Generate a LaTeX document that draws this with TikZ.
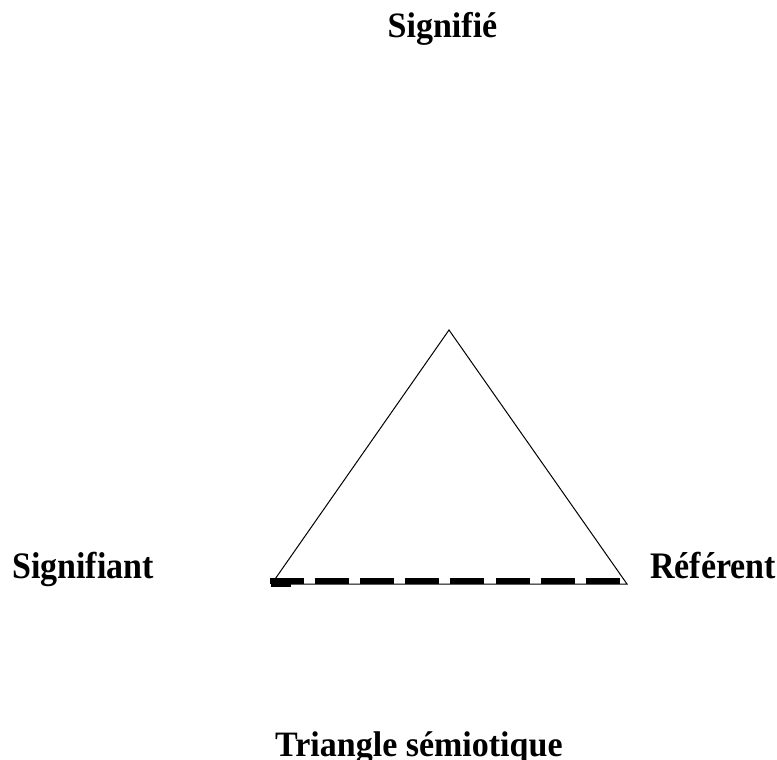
\documentclass[tikz,border=0pt]{standalone}
\usepackage{fontspec}
\usepackage{graphicx}
\setmainfont{Liberation Serif}
\begin{document}
\begin{tikzpicture}[x=1pt,y=-1pt,
  lbl/.style={font=\fontsize{34}{40}\selectfont\bfseries, inner sep=0pt},
  thin/.style={line width=1pt, line join=miter},
  dashbar/.style={line width=5.5pt, dash pattern=on 34pt off 11.1pt}]
\useasboundingbox (0,0) rectangle (777,760);
% labels
\node[lbl, anchor=base] (sd) at (442.5,37.5) {\scalebox{1}[1.05]{Signifié}};
\node[lbl, anchor=base west] (sa) at (12,578) {\scalebox{1}[1.1]{Signifiant}};
\node[lbl, anchor=base west] (ref) at (650,578) {\scalebox{1}[1.1]{Référent}};
\node[lbl, anchor=base west] (title) at (275,756) {\scalebox{1}[1.05]{Triangle sémiotique}};
% triangle vertices
\coordinate (top) at (449,330);
\coordinate (bl) at (273,582);
\coordinate (br) at (627,584);
\coordinate (bl2) at (273,584);
\coordinate (ds) at (270,581);
\coordinate (de) at (622,581);
\draw[thin] (bl) -- (top) -- (br) -- (bl2);
\draw[dashbar] (ds) -- (de);
\fill (271,581) rectangle (291,587);
\end{tikzpicture}
\end{document}
